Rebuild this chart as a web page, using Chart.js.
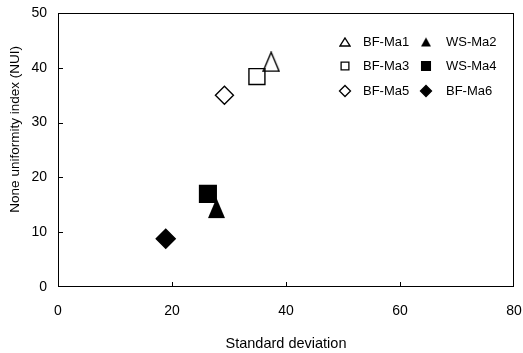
<!DOCTYPE html>
<html><head><meta charset="utf-8">
<script src="https://cdn.jsdelivr.net/npm/chart.js@4"></script>
<style>html,body{margin:0;padding:0;background:#fff}#wrap{width:523px;height:353px;position:relative}</style>
</head><body><div id="wrap"><canvas id="c"></canvas></div>
<script>
// ---- data ----
const seriesNames = ["BF-Ma1", "WS-Ma2", "BF-Ma3", "WS-Ma4", "BF-Ma5", "BF-Ma6"];
const stdDev      = [37.4, 27.8, 34.9, 26.3, 29.2, 18.9];
const nui         = [41.1, 14.4, 38.4, 17.0, 35.0, 8.8];
const xTickValues = [0, 20, 40, 60, 80];
const yTickValues = [0, 10, 20, 30, 40, 50];
const xTitle = "Standard deviation";
const yTitle = "None uniformity index (NUI)";

const FONT = "'Liberation Sans', Arial, sans-serif";

function triCanvas(w, h, filled) {
  const c = document.createElement('canvas');
  c.width = w + 2; c.height = h + 2;
  const g = c.getContext('2d');
  g.beginPath();
  g.moveTo(c.width / 2, 1);
  g.lineTo(c.width - 1, h + 1);
  g.lineTo(1, h + 1);
  g.closePath();
  if (filled) { g.fillStyle = '#000'; g.fill(); }
  else { g.lineWidth = 1.4; g.strokeStyle = '#000'; g.stroke(); }
  return c;
}

// marker styles per series (chart / legend)
const styles = [
  {style: triCanvas(16, 19, false), legendStyle: triCanvas(10, 8, false), r: 10, lr: 5, filled: false},
  {style: triCanvas(17, 20, true),  legendStyle: triCanvas(10, 9, true),  r: 10, lr: 5, filled: true},
  {style: 'rect',    legendStyle: 'rect',    r: 11.3, lr: 5.5, filled: false},
  {style: 'rect',    legendStyle: 'rect',    r: 11.8, lr: 6.2, filled: true},
  {style: 'rectRot', legendStyle: 'rectRot', r: 9,    lr: 5.5, filled: false},
  {style: 'rectRot', legendStyle: 'rectRot', r: 9.5,  lr: 5.5, filled: true}
];

const datasets = seriesNames.map((name, i) => ({
  label: name,
  data: [{x: stdDev[i], y: nui[i]}],
  pointStyle: styles[i].style,
  pointRadius: styles[i].r,
  pointHoverRadius: styles[i].r,
  backgroundColor: styles[i].filled ? '#000' : 'rgba(0,0,0,0)',
  borderColor: '#000',
  borderWidth: 1.4,
  showLine: false
}));

const frame = {
  id: 'frame',
  afterDraw(chart) {
    const {ctx, chartArea: a, scales} = chart;
    ctx.save();
    ctx.strokeStyle = '#000';
    ctx.lineWidth = 1;
    ctx.strokeRect(a.left + 0.5, a.top + 0.5, a.right - a.left - 1, a.bottom - a.top - 1);
    ctx.beginPath();
    xTickValues.slice(1, -1).forEach(v => {
      const px = Math.round(scales.x.getPixelForValue(v)) + 0.5;
      ctx.moveTo(px, a.bottom); ctx.lineTo(px, a.bottom - 5);
    });
    yTickValues.slice(1, -1).forEach(v => {
      const py = Math.round(scales.y.getPixelForValue(v)) + 0.5;
      ctx.moveTo(a.left, py); ctx.lineTo(a.left + 5, py);
    });
    ctx.stroke();
    // legend inside plot (2 columns x 3 rows)
    const colMarker = [345, 426], colText = [363, 446], rowY = [42, 66, 91];
    ctx.font = "13px " + FONT;
    ctx.textBaseline = 'middle';
    ctx.textAlign = 'left';
    seriesNames.forEach((name, i) => {
      const col = i % 2, row = Math.floor(i / 2);
      const s = styles[i];
      ctx.fillStyle = s.filled ? '#000' : 'rgba(0,0,0,0)';
      ctx.strokeStyle = '#000';
      ctx.lineWidth = 1.3;
      Chart.helpers.drawPoint(ctx, {pointStyle: s.legendStyle, radius: s.lr, borderWidth: 1.3, rotation: 0},
        colMarker[col], rowY[row]);
      ctx.fillStyle = '#000';
      ctx.fillText(name, colText[col], rowY[row]);
    });
    ctx.restore();
  }
};

new Chart(document.getElementById('c'), {
  type: 'scatter',
  data: {datasets},
  options: {
    responsive: true,
    maintainAspectRatio: false,
    animation: false,
    layout: {autoPadding: false, padding: {top: 13, right: 9, left: 0, bottom: 0}},
    plugins: {legend: {display: false}, tooltip: {enabled: false}},
    scales: {
      x: {
        type: 'linear', min: 0, max: 80,
        afterBuildTicks: s => { s.ticks = xTickValues.map(v => ({value: v})); },
        afterFit: s => { s.height = 66; },
        grid: {display: false, drawTicks: true, tickLength: 15},
        border: {display: false},
        ticks: {color: '#000', padding: 1, font: {family: FONT, size: 14}},
        title: {display: true, text: xTitle, color: '#000', font: {family: FONT, size: 14.5}, padding: {top: 2, bottom: 0}}
      },
      y: {
        type: 'linear', min: 0, max: 50,
        afterBuildTicks: s => { s.ticks = yTickValues.map(v => ({value: v})); },
        afterFit: s => { s.width = 58; },
        grid: {display: false, drawTicks: true, tickLength: 10},
        border: {display: false},
        ticks: {color: '#000', padding: 1, font: {family: FONT, size: 14}},
        title: {display: true, text: "           " + yTitle, color: '#000', font: {family: FONT, size: 13.5}, padding: {top: 7, bottom: 0}}
      }
    }
  },
  plugins: [frame]
});
</script>
</body></html>
